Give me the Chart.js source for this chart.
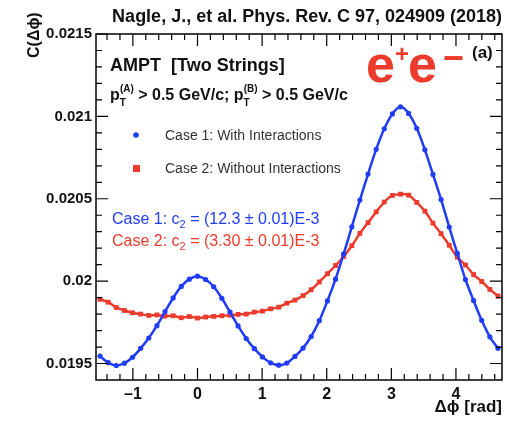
<!DOCTYPE html>
<html>
<head>
<meta charset="utf-8">
<script src="https://cdn.jsdelivr.net/npm/chart.js@4.4.1/dist/chart.umd.min.js"></script>
<style>
  html, body { margin: 0; padding: 0; background: #fff; }
  canvas { display: block; }
</style>
</head>
<body>
<canvas id="c" width="507" height="425"></canvas>
<script>
// bin centres in delta-phi (rad)
const phi = [
  -1.508, -1.382, -1.257, -1.131, -1.005, -0.880, -0.754, -0.628, -0.503, -0.377,
  -0.251, -0.126, 0.000, 0.126, 0.251, 0.377, 0.503, 0.628, 0.754, 0.880,
  1.005, 1.131, 1.257, 1.382, 1.508, 1.634, 1.759, 1.885, 2.011, 2.136,
  2.262, 2.388, 2.513, 2.639, 2.765, 2.890, 3.016, 3.142, 3.267, 3.393,
  3.519, 3.644, 3.770, 3.896, 4.021, 4.147, 4.273, 4.398, 4.524, 4.650
]

// Case 1: with interactions
const case1 = [
  0.019545, 0.019505, 0.019488, 0.019502, 0.019538, 0.019592, 0.019655, 0.019730, 0.019815, 0.019898,
  0.019968, 0.020012, 0.020030, 0.020010, 0.019966, 0.019896, 0.019812, 0.019728, 0.019652, 0.019590,
  0.019540, 0.019504, 0.019490, 0.019503, 0.019543, 0.019594, 0.019664, 0.019760, 0.019880, 0.020012,
  0.020165, 0.020330, 0.020492, 0.020650, 0.020800, 0.020925, 0.021015, 0.021058, 0.021018, 0.020928,
  0.020797, 0.020648, 0.020495, 0.020328, 0.020168, 0.020010, 0.019882, 0.019762, 0.019662, 0.019592
]

// Case 2: without interactions
const case2 = [
  0.019890, 0.019872, 0.019840, 0.019822, 0.019808, 0.019800, 0.019792, 0.019795, 0.019788, 0.019790,
  0.019778, 0.019785, 0.019776, 0.019782, 0.019786, 0.019790, 0.019793, 0.019798, 0.019800, 0.019812,
  0.019818, 0.019832, 0.019842, 0.019866, 0.019885, 0.019912, 0.019948, 0.019995, 0.020045, 0.020095,
  0.020150, 0.020215, 0.020290, 0.020355, 0.020420, 0.020480, 0.020520, 0.020528, 0.020522, 0.020478,
  0.020425, 0.020352, 0.020288, 0.020218, 0.020145, 0.020098, 0.020040, 0.019998, 0.019950, 0.019910
]

const xTicks = [-1, 0, 1, 2, 3, 4]
const yTicks = [0.0195, 0.02, 0.0205, 0.021, 0.0215]

const BLUE = "#1f3cf6"
const RED = "#ec3b2c"
const FONT = "'Liberation Sans', Arial, Helvetica, sans-serif"

function pts(ys) {
  return phi.map((x, i) => ({ x: x, y: ys[i] }))
}

// draws a run of text pieces (sub/superscripts), returns end x
function runs(ctx, x, y, parts) {
  parts.forEach(p => {
    x += p.pre || 0
    ctx.font = (p.bold ? "bold " : "") + p.size + "px " + FONT
    ctx.fillStyle = p.color
    ctx.fillText(p.t, x, y + (p.dy || 0))
    x += ctx.measureText(p.t).width + (p.gap || 0)
  })
  return x
}

const framePlugin = {
  id: "frame",
  afterDatasetsDraw(chart) {
    const { ctx, chartArea: a, scales: { x, y } } = chart
    ctx.save()
    ctx.strokeStyle = "#000"
    ctx.lineWidth = 1.5
    ctx.strokeRect(a.left, a.top, a.right - a.left, a.bottom - a.top)
    ctx.lineWidth = 1.2
    ctx.beginPath()
    for (let k = -7; k <= 23; k++) {
      const px = x.getPixelForValue(k * 0.2)
      const len = k % 5 === 0 ? 12 : 6
      ctx.moveTo(px, a.bottom); ctx.lineTo(px, a.bottom - len)
      ctx.moveTo(px, a.top); ctx.lineTo(px, a.top + len)
    }
    for (let k = 195; k <= 215; k++) {
      const py = y.getPixelForValue(k / 10000)
      const len = k % 5 === 0 ? 12 : 6
      ctx.moveTo(a.left, py); ctx.lineTo(a.left + len, py)
      ctx.moveTo(a.right, py); ctx.lineTo(a.right - len, py)
    }
    ctx.stroke()
    ctx.restore()
  },
  afterDraw(chart) {
    const { ctx } = chart
    ctx.save()
    ctx.textBaseline = "alphabetic"

    // title
    ctx.textAlign = "right"
    ctx.font = "bold 18px " + FONT
    ctx.fillStyle = "#111"
    ctx.fillText("Nagle, J., et al. Phys. Rev. C 97, 024909 (2018)", 502, 22)

    // x title
    ctx.font = "bold 17px " + FONT
    ctx.fillText("\u0394\u03d5 [rad]", 502, 412)

    // y title
    ctx.save()
    ctx.translate(39, 58)
    ctx.rotate(-Math.PI / 2)
    ctx.textAlign = "left"
    ctx.font = "bold 16px " + FONT
    ctx.fillText("C(\u0394\u03d5)", 0, 0)
    ctx.restore()

    ctx.textAlign = "left"
    const k = "#111"
    runs(ctx, 110, 71, [{ t: "AMPT  [Two Strings]", size: 18, bold: true, color: k }])
    runs(ctx, 110, 100, [
      { t: "p", size: 16, bold: true, color: k },
      { t: "T", size: 10, bold: true, color: k, dy: 6, gap: -6 },
      { t: "(A)", size: 10, bold: true, color: k, dy: -8 },
      { t: " > 0.5 GeV/c; p", size: 16, bold: true, color: k },
      { t: "T", size: 10, bold: true, color: k, dy: 6, gap: -6 },
      { t: "(B)", size: 10, bold: true, color: k, dy: -8 },
      { t: " > 0.5 GeV/c", size: 16, bold: true, color: k }
    ])

    // e+e- label, (a) drawn under the trailing minus
    runs(ctx, 472, 58, [{ t: "(a)", size: 17, bold: true, color: k }])
    runs(ctx, 366, 82, [
      { t: "e", size: 52, bold: true, color: RED },
      { t: "+", size: 24, bold: true, color: RED, dy: -20, gap: -1 },
      { t: "e", size: 52, bold: true, color: RED },
      { t: "\u2212", size: 36, bold: true, color: RED, dy: -12, pre: 6 }
    ])

    // legend
    ctx.fillStyle = BLUE
    ctx.beginPath(); ctx.arc(136, 135, 2.8, 0, Math.PI * 2); ctx.fill()
    ctx.fillStyle = RED
    ctx.fillRect(133, 165, 7, 7)
    runs(ctx, 165, 140, [{ t: "Case 1: With Interactions", size: 14, color: "#333" }])
    runs(ctx, 165, 173, [{ t: "Case 2: Without Interactions", size: 14, color: "#333" }])

    // fit results
    runs(ctx, 112, 224, [
      { t: "Case 1: c", size: 16, color: BLUE },
      { t: "2", size: 11, color: BLUE, dy: 4 },
      { t: " = (12.3 \u00b1 0.01)E-3", size: 16, color: BLUE }
    ])
    runs(ctx, 112, 246, [
      { t: "Case 2: c", size: 16, color: RED },
      { t: "2", size: 11, color: RED, dy: 4 },
      { t: " = (3.30 \u00b1 0.01)E-3", size: 16, color: RED }
    ])
    ctx.restore()
  }
}

new Chart(document.getElementById("c"), {
  type: "line",
  data: {
    datasets: [
      {
        label: "Case 1: With Interactions",
        data: pts(case1),
        borderColor: BLUE,
        backgroundColor: BLUE,
        borderWidth: 2.5,
        pointStyle: "circle",
        pointRadius: 2.6,
        pointBorderWidth: 0,
        tension: 0.35
      },
      {
        label: "Case 2: Without Interactions",
        data: pts(case2),
        borderColor: RED,
        backgroundColor: RED,
        borderWidth: 2.5,
        pointStyle: "rect",
        pointRadius: 3.4,
        pointBorderWidth: 0,
        tension: 0.35
      }
    ]
  },
  options: {
    responsive: false,
    animation: false,
    layout: { padding: { top: 34, right: 5, left: 0, bottom: 0 } },
    plugins: { legend: { display: false }, tooltip: { enabled: false } },
    scales: {
      x: {
        type: "linear",
        min: -Math.PI / 2,
        max: 3 * Math.PI / 2,
        grid: { display: false, drawTicks: false },
        border: { display: false },
        afterBuildTicks: (s) => { s.ticks = xTicks.map(v => ({ value: v })) },
        afterFit: (s) => { s.height = 45 },
        ticks: {
          padding: 5,
          color: "#111",
          font: { family: FONT, size: 16, weight: "bold" },
          callback: (v) => v < 0 ? "\u2013" + Math.abs(v) : String(v)
        }
      },
      y: {
        min: 0.0194,
        max: 0.0215,
        grid: { display: false, drawTicks: false },
        border: { display: false },
        afterBuildTicks: (s) => { s.ticks = yTicks.map(v => ({ value: v })) },
        afterFit: (s) => { s.width = 96 },
        ticks: {
          padding: 4,
          color: "#111",
          font: { family: FONT, size: 15, weight: "bold" },
          callback: (v) => String(Number(v.toFixed(4)))
        }
      }
    }
  },
  plugins: [framePlugin]
})
</script>
</body>
</html>
